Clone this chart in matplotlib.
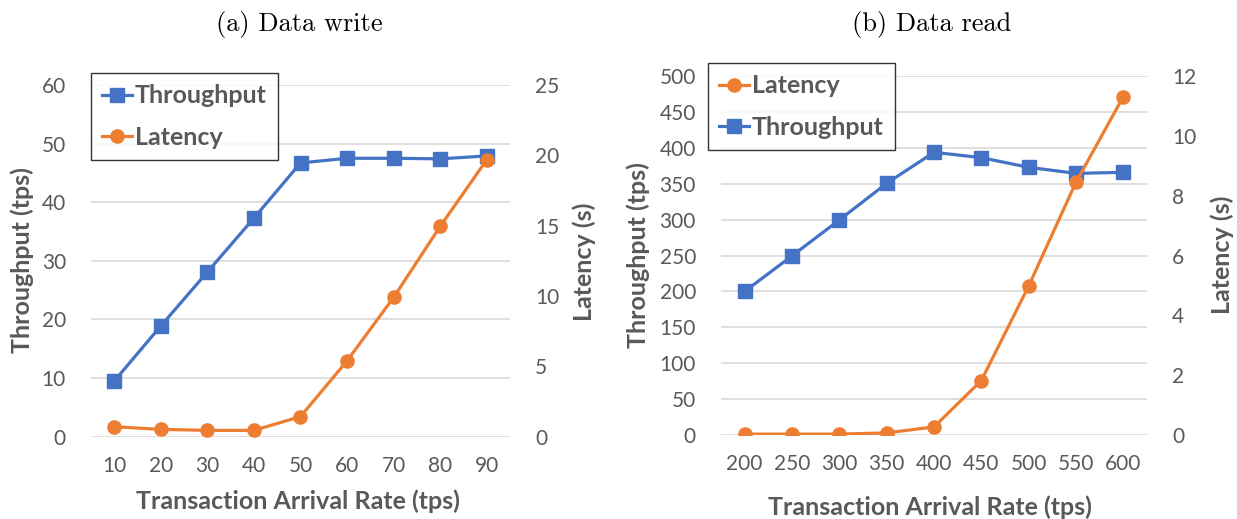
import matplotlib
matplotlib.use("Agg")
import matplotlib.pyplot as plt
from matplotlib.lines import Line2D

# -----------------------------
# Data
# -----------------------------
write_rates = ["10", "20", "30", "40", "50", "60", "70", "80", "90"]
write_throughput = [9.5, 18.9, 28.1, 37.3, 46.7, 47.5, 47.5, 47.4, 47.9]
write_latency = [0.71, 0.52, 0.45, 0.45, 1.43, 5.39, 9.9, 14.95, 19.68]

read_rates = ["200", "250", "300", "350", "400", "450", "500", "550", "600"]
read_throughput = [200, 249.5, 299.5, 350.5, 393.7, 386.3, 372.8, 364.4, 365.8]
read_latency = [0.03, 0.03, 0.03, 0.07, 0.27, 1.82, 4.98, 8.45, 11.31]

# -----------------------------
# Style
# -----------------------------
BLUE = "#4472C4"
ORANGE = "#ED7D31"
GRAY = "#595959"
GRID = "#D9D9D9"
SANS = ["Lato", "DejaVu Sans"]
W, H = 1237, 519

plt.rcParams["font.family"] = SANS

fig = plt.figure(figsize=(W / 100, H / 100), dpi=100)


def px(x, y):
    return x / W, 1 - y / H


def style_axis(ax, xpad):
    for s in ax.spines.values():
        s.set_visible(False)
    ax.tick_params(length=0, labelsize=15, colors=GRAY)
    ax.tick_params(axis="y", pad=18)
    ax.tick_params(axis="x", pad=xpad)


def panel(box, rates, thr, lat, thr_max, thr_step, lat_max, lat_step,
          legend_order, legend_xy, title, title_x, lab_pos):
    left, top, right, bottom = box
    ax = fig.add_axes([left / W, 1 - bottom / H, (right - left) / W, (bottom - top) / H])
    ax2 = ax.twinx()
    x = list(range(len(rates)))

    ax.set_axisbelow(True)
    ax.yaxis.grid(True, color=GRID, linewidth=1.2)
    ax.plot(x, thr, color=BLUE, lw=2.3, marker="s", ms=10, zorder=3)
    ax2.plot(x, lat, color=ORANGE, lw=2.3, marker="o", ms=9.5, zorder=3)

    ax.set_xlim(-0.5, len(rates) - 0.5)
    ax.set_xticks(x)
    ax.set_xticklabels(rates)
    ax.set_ylim(0, thr_max)
    ax.set_yticks(range(0, thr_max + 1, thr_step))
    ax2.set_ylim(0, lat_max)
    ax2.set_yticks(range(0, lat_max + 1, lat_step))

    style_axis(ax, 14)
    style_axis(ax2, 14)

    lab = dict(fontsize=18, fontweight="bold", color=GRAY, ha="center", va="center")
    (xl, yl), (tl, tly), (rl, rly) = lab_pos
    fig.text(*px(xl, yl), "Transaction Arrival Rate (tps)", **lab)
    fig.text(*px(tl, tly), "Throughput (tps)", rotation=90, **lab)
    fig.text(*px(rl, rly), "Latency (s)", rotation=90, **lab)

    fig.text(*px(title_x, 24), title, family="cmr10", fontsize=19,
             ha="center", va="center")

    handles = {
        "Throughput": Line2D([], [], color=BLUE, lw=2.3, marker="s", ms=10),
        "Latency": Line2D([], [], color=ORANGE, lw=2.3, marker="o", ms=9.5),
    }
    leg = ax2.legend([handles[k] for k in legend_order], legend_order,
                     loc="upper left", bbox_to_anchor=px(*legend_xy),
                     bbox_transform=fig.transFigure,
                     prop={"family": SANS, "weight": "bold", "size": 18},
                     labelcolor=GRAY, frameon=True, fancybox=False,
                     edgecolor="black", handlelength=1.2, handletextpad=0.1,
                     labelspacing=0.75, borderpad=0.45, borderaxespad=0)
    leg.get_frame().set_linewidth(1.0)
    return ax, ax2


# -----------------------------
# Panels
# -----------------------------
panel((91, 85, 510, 436.7), write_rates, write_throughput, write_latency,
      60, 10, 25, 5, ["Throughput", "Latency"], (91, 73), "(a) Data write", 299,
      ((298, 501), (22, 260), (584, 262)))
panel((721, 76, 1147, 435), read_rates, read_throughput, read_latency,
      500, 50, 12, 2, ["Latency", "Throughput"], (708, 63), "(b) Data read", 932,
      ((930, 507), (638, 255), (1222, 255)))

fig.savefig("out.png", dpi=100)
